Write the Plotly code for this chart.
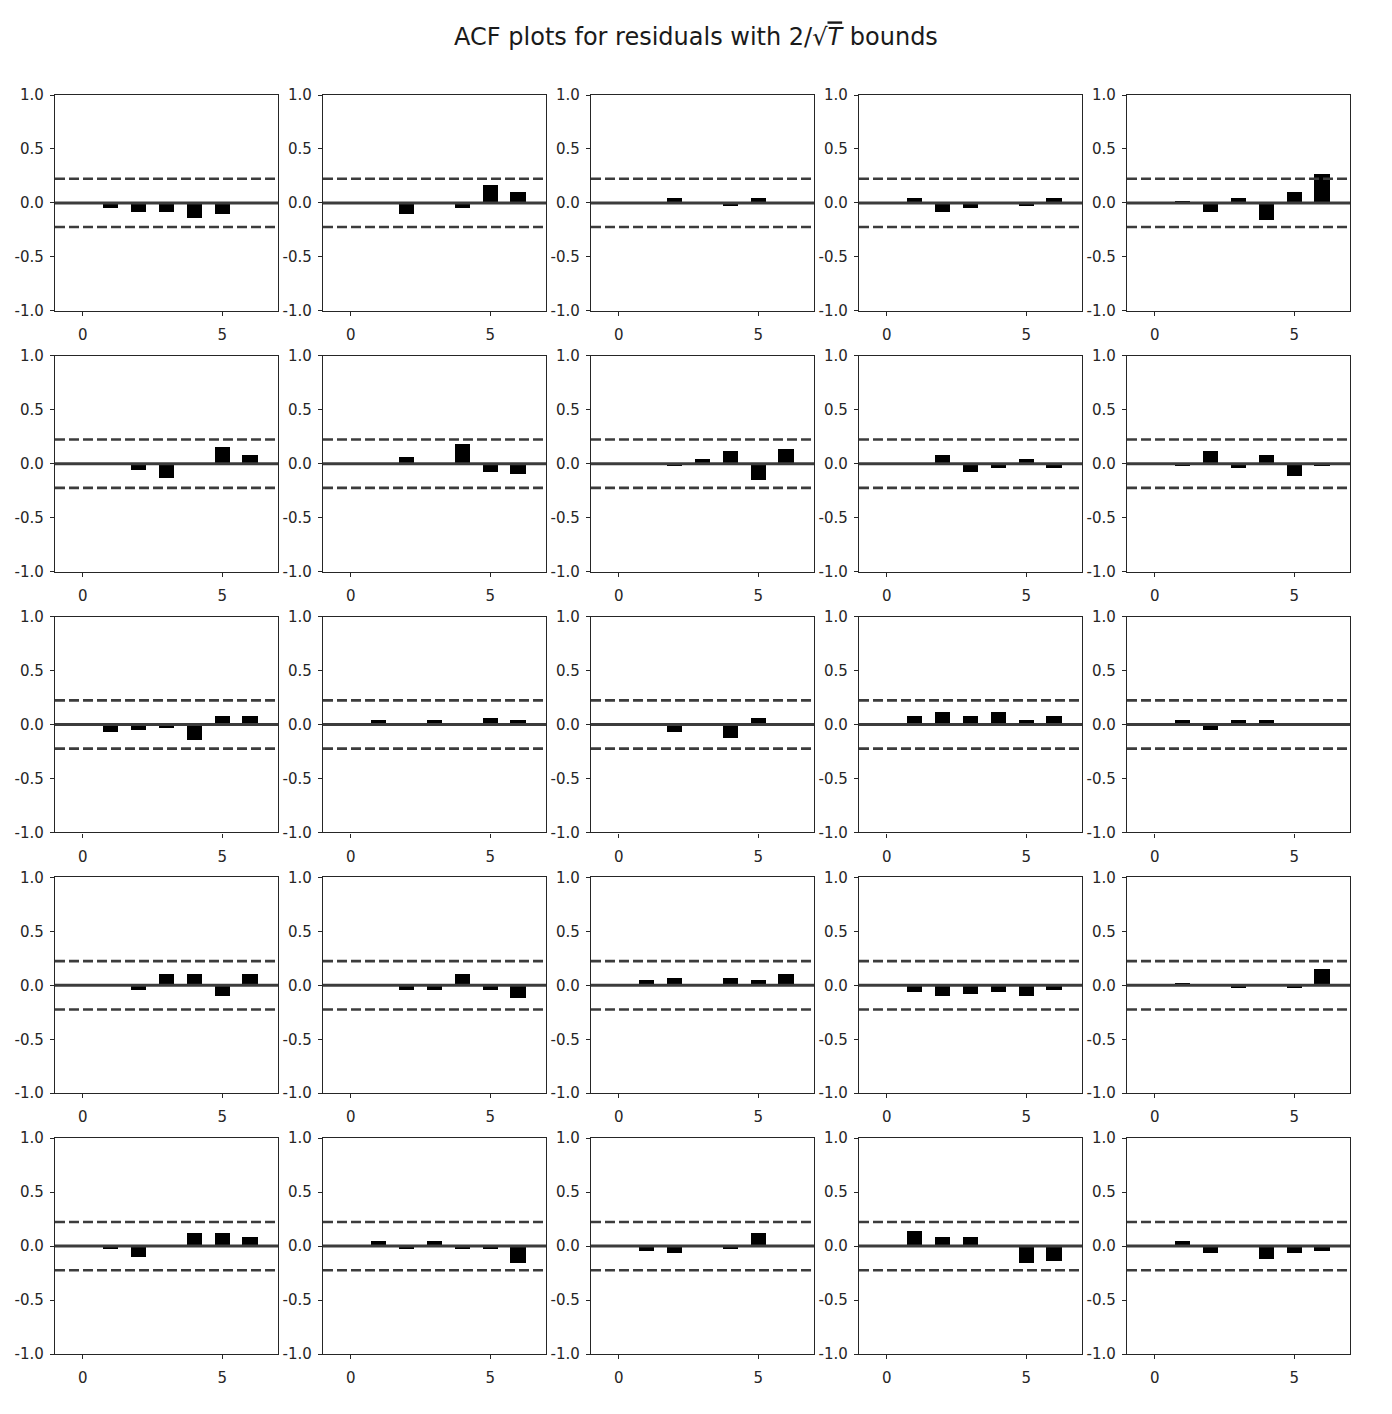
import plotly.graph_objects as go
from plotly.subplots import make_subplots

lags = [1, 2, 3, 4, 5, 6]
bound = 0.2236  # 2/sqrt(T), T = 80

acf_1 = [-0.046, -0.083, -0.083, -0.139, -0.100, 0.004]
acf_2 = [-0.005, -0.100, 0.005, -0.046, 0.170, 0.100]
acf_3 = [0.0, 0.043, -0.005, -0.028, 0.043, 0.005]
acf_4 = [0.043, -0.083, -0.046, 0.0, -0.028, 0.043]
acf_5 = [0.010, -0.083, 0.043, -0.157, 0.100, 0.265]
acf_6 = [0.005, -0.058, -0.130, 0.0, 0.160, 0.086]
acf_7 = [-0.005, 0.068, 0.005, 0.180, -0.077, -0.095]
acf_8 = [-0.005, -0.022, 0.050, 0.120, -0.150, 0.140]
acf_9 = [-0.005, 0.086, -0.077, -0.040, 0.050, -0.040]
acf_10 = [-0.022, 0.120, -0.040, 0.086, -0.110, -0.022]
acf_11 = [-0.065, -0.046, -0.028, -0.140, 0.080, 0.080]
acf_12 = [0.043, -0.005, 0.043, 0.010, 0.060, 0.043]
acf_13 = [-0.005, -0.065, 0.010, -0.120, 0.060, -0.005]
acf_14 = [0.080, 0.117, 0.080, 0.117, 0.043, 0.080]
acf_15 = [0.043, -0.046, 0.043, 0.043, 0.010, 0.010]
acf_16 = [0.0, -0.046, 0.100, 0.100, -0.100, 0.100]
acf_17 = [0.0, -0.046, -0.046, 0.100, -0.046, -0.120]
acf_18 = [0.043, 0.060, 0.005, 0.060, 0.043, 0.100]
acf_19 = [-0.065, -0.100, -0.083, -0.065, -0.100, -0.046]
acf_20 = [0.010, 0.0, -0.028, -0.010, -0.028, 0.150]
acf_21 = [-0.028, -0.100, -0.005, 0.117, 0.117, 0.080]
acf_22 = [0.043, -0.028, 0.043, -0.028, -0.028, -0.157]
acf_23 = [-0.046, -0.065, -0.005, -0.028, 0.117, 0.0]
acf_24 = [0.135, 0.080, 0.080, -0.010, -0.157, -0.140]
acf_25 = [0.043, -0.065, 0.0, -0.120, -0.065, -0.046]

series = [acf_1, acf_2, acf_3, acf_4, acf_5, acf_6, acf_7, acf_8, acf_9, acf_10,
          acf_11, acf_12, acf_13, acf_14, acf_15, acf_16, acf_17, acf_18, acf_19, acf_20,
          acf_21, acf_22, acf_23, acf_24, acf_25]

y_ticks = [-1.0, -0.5, 0.0, 0.5, 1.0]
y_tick_labels = ["-1.0", "-0.5", "0.0", "0.5", "1.0"]
x_ticks = [0, 5]
x_tick_labels = ["0", "5"]
x_range = [-1, 7]

W, H = 1392, 1414
ml, mr, mt, mb = 55, 42, 95, 60
fig = make_subplots(rows=5, cols=5,
                    horizontal_spacing=45 / (W - ml - mr),
                    vertical_spacing=45 / (H - mt - mb))

line_col = "#3c3c3c"
for i, vals in enumerate(series):
    r, c = i // 5 + 1, i % 5 + 1
    fig.add_trace(go.Bar(x=lags, y=vals, width=0.55, marker_color="black",
                         marker_line_width=0, showlegend=False), row=r, col=c)
    fig.add_trace(go.Scatter(x=x_range, y=[0, 0], mode="lines",
                             line=dict(color=line_col, width=3), showlegend=False),
                  row=r, col=c)
    for b in (bound, -bound):
        fig.add_trace(go.Scatter(x=x_range, y=[b, b], mode="lines",
                                 line=dict(color=line_col, width=2.6, dash="10px,4px"),
                                 showlegend=False), row=r, col=c)

axis_font = dict(family="DejaVu Sans", size=15, color="#262626")
fig.update_xaxes(range=x_range, tickvals=x_ticks, ticktext=x_tick_labels,
                 ticks="outside", ticklen=4, ticklabelstandoff=6,
                 tickcolor="#262626", showline=True, linecolor="#262626", linewidth=1.3,
                 mirror=True, showgrid=False, zeroline=False, tickfont=axis_font)
fig.update_yaxes(range=[-1, 1], tickvals=y_ticks, ticktext=y_tick_labels,
                 ticks="outside", ticklen=4, ticklabelstandoff=3,
                 tickcolor="#262626", showline=True, linecolor="#262626",
                 linewidth=1.3, mirror=True, showgrid=False, zeroline=False,
                 tickfont=axis_font)

fig.update_layout(
    width=W, height=H,
    margin=dict(l=ml, r=mr, t=mt, b=mb),
    plot_bgcolor="white", paper_bgcolor="white",
    bargap=0,
    title=dict(text="ACF plots for residuals with 2/\u221a<span style='text-decoration:overline'><i>T</i></span> bounds",
               x=0.5, xanchor="center", y=1 - 37 / H, yanchor="middle", yref="container",
               font=dict(family="DejaVu Sans", size=24, color="#1a1a1a")),
)

fig.write_html("out.html")
